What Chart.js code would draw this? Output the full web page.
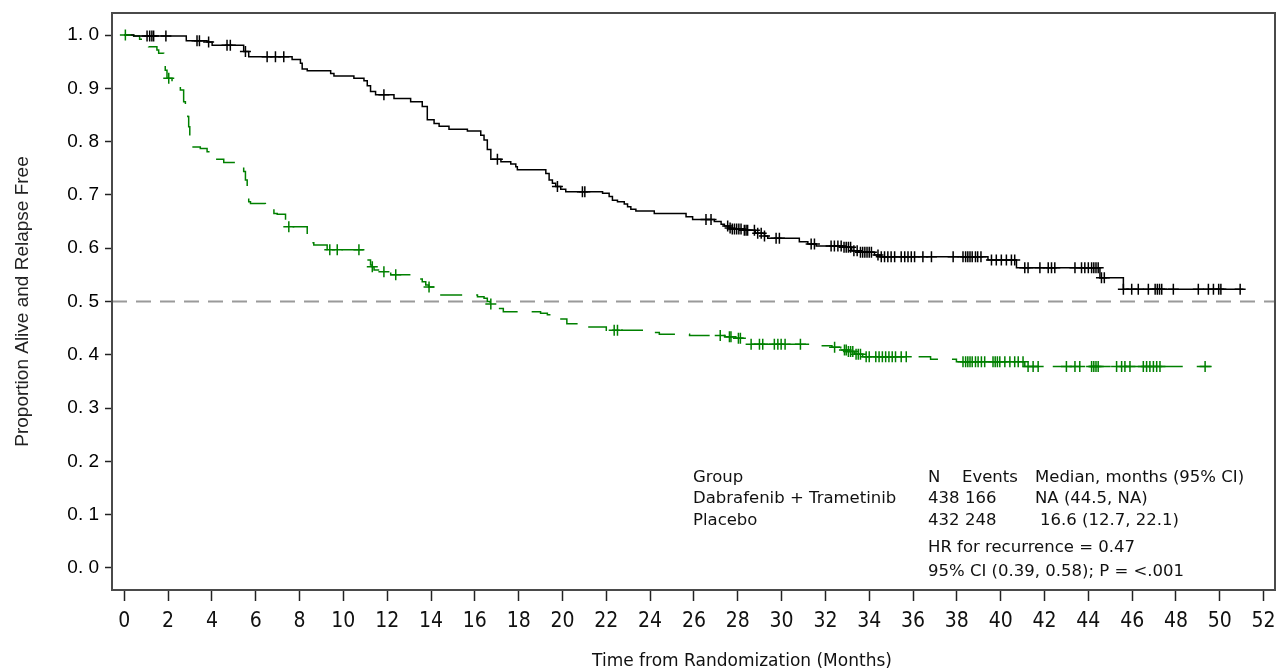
<!DOCTYPE html>
<html>
<head>
<meta charset="utf-8">
<script src="https://cdn.jsdelivr.net/npm/chart.js@4.4.0/dist/chart.umd.min.js"></script>
<style>
  html, body { margin: 0; padding: 0; background: #fff; }
</style>
</head>
<body>
<canvas id="kmChart" width="1276" height="670"></canvas>
<script>
// Kaplan-Meier steps (time in months, survival)
const dtTime = [0, 0.43, 2.83, 3.78, 4.01, 5.45, 5.68, 7.66, 8.04, 8.12, 8.35, 9.42, 9.57, 10.48, 10.94, 11.09, 11.24, 11.47, 12.31, 13.07, 13.6, 13.83, 14.14, 14.37, 14.82, 15.66, 16.27, 16.42, 16.57, 16.73, 17.19, 17.64, 17.87, 17.94, 19.24, 19.39, 19.54, 19.69, 19.92, 20.15, 21.83, 22.13, 22.28, 22.51, 22.82, 22.97, 23.12, 23.35, 24.19, 25.64, 25.94, 26.93, 27.24, 27.39, 27.6, 27.7, 28.25, 28.8, 29.22, 29.37, 30.81, 31.2, 31.58, 32.8, 33.2, 33.5, 34.24, 34.5, 39.42, 40.72, 44.53, 45.6, 51.08];
const dtSurv = [1.0, 0.998, 0.989, 0.987, 0.981, 0.969, 0.959, 0.954, 0.947, 0.936, 0.933, 0.928, 0.923, 0.919, 0.914, 0.905, 0.894, 0.888, 0.881, 0.875, 0.866, 0.841, 0.834, 0.829, 0.823, 0.820, 0.812, 0.803, 0.785, 0.767, 0.762, 0.758, 0.753, 0.747, 0.740, 0.728, 0.722, 0.716, 0.7105, 0.706, 0.703, 0.697, 0.690, 0.687, 0.683, 0.678, 0.673, 0.670, 0.665, 0.659, 0.654, 0.650, 0.645, 0.6416, 0.638, 0.636, 0.6335, 0.628, 0.623, 0.6185, 0.612, 0.608, 0.604, 0.6016, 0.5954, 0.5922, 0.5872, 0.584, 0.578, 0.5635, 0.5447, 0.5228, 0.5228];

const plTime = [0, 0.43, 0.7, 1.11, 1.49, 1.57, 1.8, 1.87, 1.95, 2.18, 2.48, 2.56, 2.71, 2.79, 2.9, 2.94, 2.99, 3.09, 3.47, 3.78, 4.16, 4.54, 5.45, 5.53, 5.61, 5.68, 5.76, 6.44, 6.83, 6.98, 7.36, 7.5, 8.35, 8.5, 8.65, 9.26, 11.02, 11.09, 11.24, 11.32, 11.4, 11.8, 12.16, 13.3, 13.6, 13.76, 13.9, 14.22, 16.12, 16.42, 16.57, 16.7, 17.0, 17.3, 19.0, 19.31, 19.47, 19.62, 20.2, 21.06, 22.0, 23.96, 24.42, 25.8, 27.4, 27.9, 28.3, 28.45, 31.73, 32.3, 32.7, 33.0, 33.33, 33.7, 36.8, 37.98, 41.1, 49.63];
const plSurv = [1.0, 0.998, 0.992, 0.978, 0.972, 0.966, 0.947, 0.934, 0.919, 0.910, 0.903, 0.897, 0.875, 0.859, 0.847, 0.828, 0.809, 0.790, 0.787, 0.781, 0.767, 0.761, 0.744, 0.728, 0.703, 0.687, 0.684, 0.675, 0.665, 0.6635, 0.650, 0.6404, 0.622, 0.610, 0.606, 0.597, 0.587, 0.578, 0.5685, 0.565, 0.559, 0.556, 0.550, 0.542, 0.537, 0.531, 0.527, 0.512, 0.509, 0.506, 0.500, 0.4953, 0.487, 0.481, 0.478, 0.475, 0.4715, 0.467, 0.4584, 0.452, 0.446, 0.442, 0.4384, 0.436, 0.434, 0.431, 0.428, 0.420, 0.417, 0.414, 0.409, 0.406, 0.401, 0.3965, 0.3915, 0.387, 0.378, 0.378];

// censored observations (+)
const dtCensTime = [1.04, 1.16, 1.26, 1.34, 1.9, 3.32, 3.43, 3.85, 4.69, 4.84, 5.53, 6.52, 6.9, 7.28, 11.85, 17.03, 19.77, 20.91, 21.02, 26.55, 26.78, 27.54, 27.65, 27.75, 27.85, 27.95, 28.05, 28.15, 28.3, 28.38, 28.45, 28.76, 28.91, 29.07, 29.22, 29.75, 29.9, 31.35, 31.5, 32.26, 32.41, 32.57, 32.72, 32.85, 32.95, 33.05, 33.15, 33.3, 33.45, 33.6, 33.7, 33.8, 33.9, 34.0, 34.1, 34.4, 34.55, 34.7, 34.85, 35.0, 35.16, 35.46, 35.62, 35.77, 35.92, 36.07, 36.45, 36.84, 37.83, 38.28, 38.4, 38.5, 38.6, 38.7, 38.85, 38.95, 39.1, 39.58, 39.8, 40.03, 40.26, 40.49, 40.64, 41.1, 41.25, 41.79, 42.17, 42.32, 42.47, 43.39, 43.69, 43.84, 44.0, 44.15, 44.25, 44.35, 44.45, 44.6, 44.73, 45.6, 45.98, 46.28, 46.74, 47.05, 47.15, 47.25, 47.35, 47.88, 49.02, 49.48, 49.71, 49.95, 50.05, 50.93];
const dtCensSurv = [0.998, 0.998, 0.998, 0.998, 0.998, 0.989, 0.989, 0.987, 0.981, 0.981, 0.969, 0.959, 0.959, 0.959, 0.888, 0.767, 0.716, 0.706, 0.706, 0.654, 0.654, 0.6416, 0.638, 0.636, 0.636, 0.636, 0.636, 0.636, 0.6335, 0.6335, 0.6335, 0.6335, 0.628, 0.628, 0.623, 0.6185, 0.6185, 0.608, 0.608, 0.604, 0.604, 0.604, 0.604, 0.6016, 0.6016, 0.6016, 0.6016, 0.5954, 0.5954, 0.5922, 0.5922, 0.5922, 0.5922, 0.5922, 0.5922, 0.5872, 0.584, 0.584, 0.584, 0.584, 0.584, 0.584, 0.584, 0.584, 0.584, 0.584, 0.584, 0.584, 0.584, 0.584, 0.584, 0.584, 0.584, 0.584, 0.584, 0.584, 0.584, 0.578, 0.578, 0.578, 0.578, 0.578, 0.578, 0.5635, 0.5635, 0.5635, 0.5635, 0.5635, 0.5635, 0.5635, 0.5635, 0.5635, 0.5635, 0.5635, 0.5635, 0.5635, 0.5635, 0.5447, 0.5447, 0.5228, 0.5228, 0.5228, 0.5228, 0.5228, 0.5228, 0.5228, 0.5228, 0.5228, 0.5228, 0.5228, 0.5228, 0.5228, 0.5228, 0.5228];

const plCensTime = [0.05, 2.03, 7.51, 9.38, 9.72, 10.71, 11.32, 11.85, 12.39, 13.91, 16.73, 22.36, 22.51, 27.2, 27.62, 27.69, 28.03, 28.12, 28.61, 28.99, 29.14, 29.67, 29.83, 29.98, 30.16, 30.86, 32.42, 32.87, 32.95, 33.05, 33.15, 33.25, 33.4, 33.5, 33.6, 33.86, 34.0, 34.3, 34.45, 34.6, 34.75, 34.9, 35.05, 35.2, 35.46, 35.69, 38.28, 38.4, 38.5, 38.6, 38.7, 38.85, 38.97, 39.12, 39.27, 39.65, 39.75, 39.85, 39.96, 40.19, 40.42, 40.64, 40.8, 41.02, 41.25, 41.48, 41.71, 43.0, 43.39, 43.61, 44.15, 44.25, 44.35, 44.45, 45.29, 45.52, 45.67, 45.9, 46.51, 46.66, 46.81, 46.97, 47.12, 47.27, 49.33];
const plCensSurv = [1.0, 0.919, 0.6404, 0.597, 0.597, 0.597, 0.565, 0.556, 0.550, 0.527, 0.4953, 0.446, 0.446, 0.436, 0.434, 0.434, 0.431, 0.431, 0.420, 0.420, 0.420, 0.420, 0.420, 0.420, 0.420, 0.420, 0.414, 0.409, 0.409, 0.406, 0.406, 0.406, 0.401, 0.401, 0.401, 0.3965, 0.3965, 0.3965, 0.3965, 0.3965, 0.3965, 0.3965, 0.3965, 0.3965, 0.3965, 0.3965, 0.387, 0.387, 0.387, 0.387, 0.387, 0.387, 0.387, 0.387, 0.387, 0.387, 0.387, 0.387, 0.387, 0.387, 0.387, 0.387, 0.387, 0.387, 0.378, 0.378, 0.378, 0.378, 0.378, 0.378, 0.378, 0.378, 0.378, 0.378, 0.378, 0.378, 0.378, 0.378, 0.378, 0.378, 0.378, 0.378, 0.378, 0.378, 0.378];

const medianLine = 0.5;
const xTicks = [0, 2, 4, 6, 8, 10, 12, 14, 16, 18, 20, 22, 24, 26, 28, 30, 32, 34, 36, 38, 40, 42, 44, 46, 48, 50, 52];
const yTicks = [0, 0.1, 0.2, 0.3, 0.4, 0.5, 0.6, 0.7, 0.8, 0.9, 1.0];
const xMin = -0.56, xMax = 52.52;
const yMin = -0.0413, yMax = 1.0413;

// text block in the lower right
const tableHeader = ['Group', 'N', 'Events', 'Median, months (95% CI)'];
const groupNames = ['Dabrafenib + Trametinib', 'Placebo'];
const groupN = ['438', '432'];
const groupEvents = ['166', '248'];
const groupMedian = ['NA (44.5, NA)', '16.6 (12.7, 22.1)'];
const hrLines = ['HR for recurrence = 0.47', '95% CI (0.39, 0.58); P = <.001'];
const xTitle = 'Time from Randomization (Months)';
const yTitle = 'Proportion Alive and Relapse Free';

const GREEN = '#008000';
const toPts = (ts, ss) => ts.map((t, i) => ({x: t, y: ss[i]}));

// frame + texts drawn on top
const extrasPlugin = {
    id: 'extras',
    afterDraw(chart) {
        const ctx = chart.ctx;
        const a = chart.chartArea;
        ctx.save();
        ctx.strokeStyle = '#4a4a4a';
        ctx.lineWidth = 2;
        ctx.strokeRect(a.left, a.top, a.right - a.left, a.bottom - a.top);

        ctx.fillStyle = '#111';
        ctx.font = '16.5px "DejaVu Sans", sans-serif';
        ctx.textBaseline = 'middle';
        ctx.textAlign = 'left';
        const cols = [693, 928, 962, 1035];
        tableHeader.forEach((h, i) => ctx.fillText(h, cols[i], 478));
        const rowY = [499, 521];
        groupNames.forEach((g, i) => {
            ctx.fillText(g, cols[0], rowY[i]);
            ctx.fillText(groupN[i], cols[1], rowY[i]);
            ctx.fillText(groupEvents[i], cols[2] + 3, rowY[i]);
            ctx.fillText(groupMedian[i], cols[3] + i * 5, rowY[i]);
        });
        ctx.fillText(hrLines[0], cols[1], 548);
        ctx.fillText(hrLines[1], cols[1], 572);

        // x axis title
        ctx.font = '17px "DejaVu Sans", sans-serif';
        ctx.textAlign = 'center';
        ctx.fillText(xTitle, 742, 662);
        ctx.restore();
    }
};

const config = {
    type: 'scatter',
    data: {
        datasets: [
            {
                label: 'Dabrafenib + Trametinib censored',
                data: toPts(dtCensTime, dtCensSurv),
                pointStyle: 'cross', pointRadius: 5.5, pointBorderWidth: 1.5,
                borderColor: '#000', backgroundColor: '#000'
            },
            {
                label: 'Placebo censored',
                data: toPts(plCensTime, plCensSurv),
                pointStyle: 'cross', pointRadius: 5.5, pointBorderWidth: 1.5,
                borderColor: GREEN, backgroundColor: GREEN
            },
            {
                label: 'Dabrafenib + Trametinib',
                data: toPts(dtTime, dtSurv),
                showLine: true, stepped: 'before', pointRadius: 0,
                borderColor: '#000', borderWidth: 1.5
            },
            {
                label: 'Placebo',
                data: toPts(plTime, plSurv),
                showLine: true, stepped: 'before', pointRadius: 0,
                borderColor: GREEN, borderWidth: 1.5, borderDash: [22, 14]
            },
            {
                label: 'Median',
                data: [{x: xMin, y: medianLine}, {x: xMax, y: medianLine}],
                showLine: true, pointRadius: 0,
                borderColor: '#9a9a9a', borderWidth: 2, borderDash: [15, 9]
            }
        ]
    },
    options: {
        responsive: false,
        animation: false,
        layout: {autoPadding: false, padding: {top: 13, right: 1, left: 0, bottom: 0}},
        plugins: {
            legend: {display: false},
            tooltip: {enabled: false}
        },
        scales: {
            x: {
                type: 'linear', min: xMin, max: xMax,
                afterBuildTicks: s => { s.ticks = xTicks.map(v => ({value: v})); },
                afterFit: s => { s.height = 80; s.paddingLeft = 0; s.paddingRight = 0; },
                border: {display: false},
                grid: {display: true, drawOnChartArea: false, drawTicks: true, tickLength: 11, tickColor: '#222', tickWidth: 1.5},
                ticks: {
                    autoSkip: false, maxRotation: 0, padding: 8, color: '#111',
                    font: {family: '"Liberation Sans Narrow", "DejaVu Sans Condensed", sans-serif', size: 21}
                }
            },
            y: {
                type: 'linear', min: yMin, max: yMax,
                afterBuildTicks: s => { s.ticks = yTicks.map(v => ({value: v})); },
                afterFit: s => { s.width = 112; s.paddingTop = 0; s.paddingBottom = 0; },
                border: {display: false},
                grid: {display: true, drawOnChartArea: false, drawTicks: true, tickLength: 7, tickColor: '#222', tickWidth: 1.5},
                ticks: {
                    padding: 6, color: '#000',
                    font: {family: '"Liberation Sans", Arial, sans-serif', size: 19},
                    callback: v => v.toFixed(1).replace('.', '. ')
                },
                title: {
                    display: true, text: yTitle, color: '#222',
                    font: {family: '"Liberation Sans", Arial, sans-serif', size: 19},
                    padding: {top: 11, bottom: 0}
                }
            }
        }
    },
    plugins: [extrasPlugin]
};

const kmChart = new Chart(document.getElementById('kmChart'), config);
</script>
</body>
</html>
